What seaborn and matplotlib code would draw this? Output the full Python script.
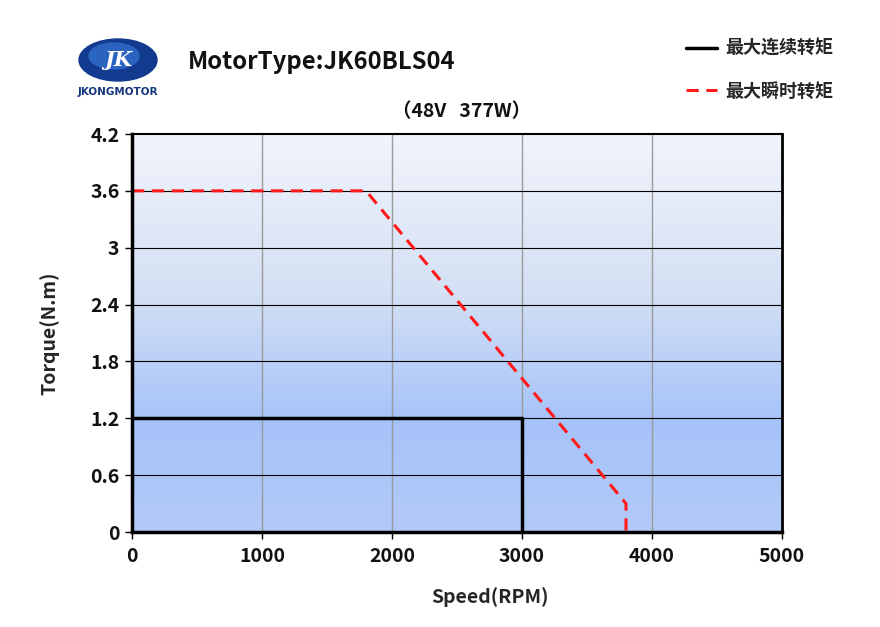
import matplotlib
matplotlib.use('Agg')
import matplotlib.pyplot as plt
import matplotlib.patches as mpatches
from matplotlib.colors import LinearSegmentedColormap
from matplotlib.lines import Line2D
import numpy as np
import pandas as pd
import seaborn as sns

# curve data
cont_speed = [0, 3000, 3000]
cont_torque = [1.2, 1.2, 0]
peak_speed = [0, 1800, 3800, 3800]
peak_torque = [3.6, 3.6, 0.3, 0]
x_ticks = [0, 1000, 2000, 3000, 4000, 5000]
y_ticks = [0, 0.6, 1.2, 1.8, 2.4, 3, 3.6, 4.2]
y_labels = ['0', '0.6', '1.2', '1.8', '2.4', '3', '3.6', '4.2']
labels = ['最大连续转矩', '最大瞬时转矩']

sns.set_style('white')
plt.rcParams['font.family'] = ['Noto Sans CJK SC', 'DejaVu Sans']

fig = plt.figure(figsize=(8.8, 6.27), dpi=100)
ax = fig.add_axes([132 / 880, 1 - 532 / 627, 650 / 880, 398 / 627])

# background gradient
cmap = LinearSegmentedColormap.from_list(
    'bg', [(0, '#b2caf8'), (0.28, '#a6c3fa'), (0.6, '#d4e0f4'), (1, '#f1f4fc')])
grad = np.linspace(0, 1, 256).reshape(-1, 1)
ax.imshow(grad, cmap=cmap, aspect='auto', origin='lower',
          extent=[0, 5000, 0, 4.2], zorder=0)

for x in x_ticks[1:-1]:
    ax.axvline(x, color='#9a9a9a', lw=1, zorder=1)
for y in y_ticks[1:-1]:
    ax.axhline(y, color='black', lw=0.8, zorder=1)

cont = pd.DataFrame({'speed': cont_speed, 'torque': cont_torque})
peak = pd.DataFrame({'speed': peak_speed, 'torque': peak_torque})
sns.lineplot(data=cont, x='speed', y='torque', sort=False, estimator=None,
             color='black', lw=2.5, ax=ax, zorder=3)
sns.lineplot(data=peak, x='speed', y='torque', sort=False, estimator=None,
             color='#ff1a1a', lw=2.2, ax=ax, zorder=4)
ax.lines[-1].set_linestyle((0, (4, 2.5)))

ax.set_xlim(0, 5000)
ax.set_ylim(0, 4.2)
ax.set_xticks(x_ticks)
ax.set_yticks(y_ticks)
ax.set_yticklabels(y_labels)
ax.tick_params(axis='both', direction='out', length=5, width=1, colors='black',
               labelsize=14, bottom=True, left=True)
ax.tick_params(axis='x', pad=6)
ax.tick_params(axis='y', pad=4)
for lab in ax.get_xticklabels() + ax.get_yticklabels():
    lab.set_fontweight('bold')
    lab.set_color('#111111')

for side, w in [('left', 2.5), ('bottom', 2.5), ('top', 1.5), ('right', 2)]:
    ax.spines[side].set_color('black')
    ax.spines[side].set_linewidth(w)
    ax.spines[side].set_zorder(5)

ax.set_xlabel('Speed(RPM)', fontsize=14, fontweight='bold')
ax.xaxis.set_label_coords((490 - 132) / 650, -55 / 398)
ax.set_ylabel('Torque(N.m)', fontsize=14, fontweight='bold', labelpad=22)

fig.text(188 / 880, 1 - 62 / 627, 'MotorType:JK60BLS04', fontsize=17.2,
         fontweight='bold', va='center', ha='left', color='#111111')
fig.text(462 / 880, 1 - 112 / 627, '（48V   377W）', fontsize=14,
         fontweight='bold', va='center', ha='center', color='#111111')

# logo
logo_ax = fig.add_axes([76 / 880, 1 - 100 / 627, 84 / 880, 64 / 627])
logo_ax.set_xlim(0, 84)
logo_ax.set_ylim(0, 64)
logo_ax.axis('off')
logo_ax.add_patch(mpatches.Ellipse((42, 40), 78, 42, color='#123a8f'))
logo_ax.add_patch(mpatches.Ellipse((38, 44), 50, 26, color='#2a63c0'))
logo_ax.text(42, 40, 'JK', fontsize=15, color='white', ha='center', va='center',
             fontstyle='italic', fontweight='bold', family='DejaVu Serif')
logo_ax.text(42, 8, 'JKONGMOTOR', fontsize=7.5, color='#16357f', ha='center',
             va='center', fontweight='bold', family='DejaVu Sans')

handles = [Line2D([], [], color='black', lw=2.5),
           Line2D([], [], color='#ff1a1a', lw=2.2, linestyle=(0, (4, 2.5)))]
fig.legend(handles, labels, loc='upper left', bbox_to_anchor=(686 / 880, 1 - 39 / 627),
           frameon=False, prop={'size': 13, 'weight': 'bold'}, labelspacing=1.3,
           handlelength=1.7, handletextpad=0.45, borderpad=0, borderaxespad=0)

fig.savefig('out.png', dpi=100)
